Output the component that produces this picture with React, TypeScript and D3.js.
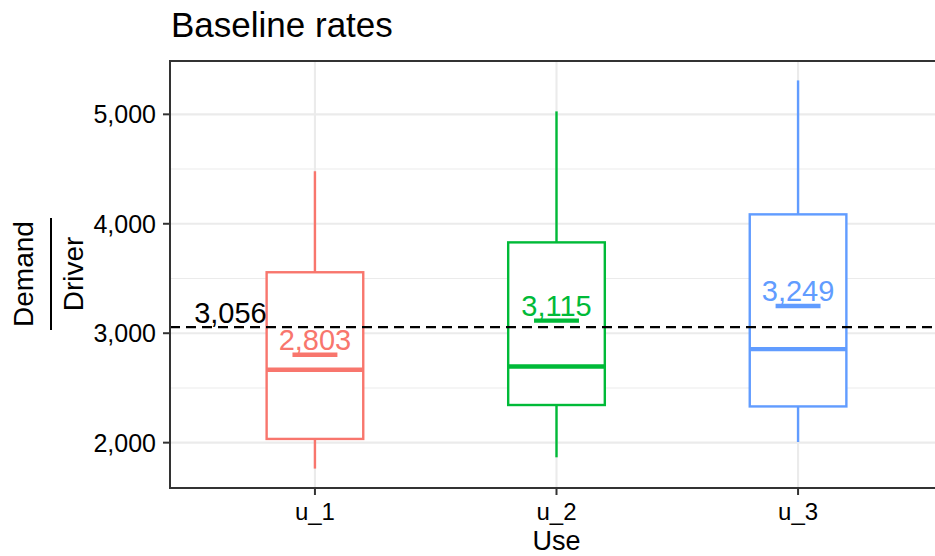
import React from 'react';
import * as d3 from 'd3';

// data
const categories = ['u_1', 'u_2', 'u_3'];
const whiskerLow = [1763, 1866, 2006];
const q1 = [2034, 2344, 2331];
const medians = [2666, 2696, 2855];
const q3 = [3557, 3830, 4086];
const whiskerHigh = [4480, 5027, 5310];
const means = [2803, 3115, 3249];
const overallMean = 3056;
const yTicks = [2000, 3000, 4000, 5000];
const yMinorTicks = [2500, 3500, 4500];

const colors = ['#F8766D', '#00BA38', '#619CFF'];

const App: React.FC = () => {
  const width = 935;
  const height = 556;
  const panel = { left: 170, top: 61, bottom: 488, right: 943 };
  const font = '"Liberation Sans", Arial, sans-serif';

  const lo = d3.min(whiskerLow) as number;
  const hi = d3.max(whiskerHigh) as number;
  const pad = (hi - lo) * 0.05;

  const y = d3.scaleLinear()
    .domain([lo - pad, hi + pad])
    .range([panel.bottom, panel.top]);

  // discrete axis: positions 1..n with 0.6 expansion each side
  const x = d3.scaleLinear()
    .domain([0.4, categories.length + 0.6])
    .range([panel.left, panel.right]);

  const fmt = d3.format(',');
  const boxHalf = 0.2;
  const meanHalf = 0.093;
  const gridColor = '#ebebeb';
  const axisColor = '#333333';
  const labelSize = 29;
  const tickSize = 25;

  return (
    <svg width={width} height={height} style={{ position: 'absolute', left: 0, top: 0 }} fontFamily={font}>
      <rect x={0} y={0} width={width} height={height} fill="#fff" />
      <clipPath id="panel-clip">
        <rect x={panel.left} y={panel.top} width={panel.right - panel.left} height={panel.bottom - panel.top} />
      </clipPath>

      {/* grid */}
      {yMinorTicks.map(t => (
        <line key={'mn' + t} x1={panel.left} x2={panel.right} y1={y(t)} y2={y(t)} stroke={gridColor} strokeWidth={1.1} />
      ))}
      {yTicks.map(t => (
        <line key={'mj' + t} x1={panel.left} x2={panel.right} y1={y(t)} y2={y(t)} stroke={gridColor} strokeWidth={2.1} />
      ))}
      {categories.map((c, i) => (
        <line key={'vg' + c} x1={x(i + 1)} x2={x(i + 1)} y1={panel.top} y2={panel.bottom} stroke={gridColor} strokeWidth={2.1} />
      ))}

      {/* boxes */}
      <g clipPath="url(#panel-clip)">
        {categories.map((c, i) => {
          const cx = x(i + 1);
          const xl = x(i + 1 - boxHalf);
          const xr = x(i + 1 + boxHalf);
          const col = colors[i];
          return (
            <g key={c}>
              <line x1={cx} x2={cx} y1={y(whiskerHigh[i])} y2={y(q3[i])} stroke={col} strokeWidth={2.4} />
              <line x1={cx} x2={cx} y1={y(q1[i])} y2={y(whiskerLow[i])} stroke={col} strokeWidth={2.4} />
              <rect x={xl} y={y(q3[i])} width={xr - xl} height={y(q1[i]) - y(q3[i])} fill="#fff" stroke={col} strokeWidth={2.4} />
              <line x1={xl} x2={xr} y1={y(medians[i])} y2={y(medians[i])} stroke={col} strokeWidth={4.4} />
              <line x1={x(i + 1 - meanHalf)} x2={x(i + 1 + meanHalf)} y1={y(means[i])} y2={y(means[i])} stroke={col} strokeWidth={4.4} />
              <text x={cx} y={y(means[i]) - 5} textAnchor="middle" fontSize={labelSize} fill={col}>{fmt(means[i])}</text>
            </g>
          );
        })}

        <line x1={panel.left} x2={panel.right} y1={y(overallMean)} y2={y(overallMean)} stroke="#000" strokeWidth={2.3} strokeDasharray="10,6" />
        <text x={x(0.5)} y={y(overallMean) - 4} fontSize={labelSize} fill="#000">{fmt(overallMean)}</text>
      </g>

      {/* panel border */}
      <rect x={panel.left} y={panel.top} width={panel.right - panel.left} height={panel.bottom - panel.top} fill="none" stroke={axisColor} strokeWidth={2} />

      {/* y axis */}
      {yTicks.map(t => (
        <g key={'yt' + t}>
          <line x1={panel.left - 7} x2={panel.left} y1={y(t)} y2={y(t)} stroke={axisColor} strokeWidth={2} />
          <text x={panel.left - 14} y={y(t)} dy="0.36em" textAnchor="end" fontSize={tickSize} fill="#000">{fmt(t)}</text>
        </g>
      ))}

      {/* x axis */}
      {categories.map((c, i) => (
        <g key={'xt' + c}>
          <line x1={x(i + 1)} x2={x(i + 1)} y1={panel.bottom} y2={panel.bottom + 7} stroke={axisColor} strokeWidth={2} />
          <text x={x(i + 1)} y={520} textAnchor="middle" fontSize={24} fill="#000">{c}</text>
        </g>
      ))}

      {/* axis titles */}
      <text x={x(2)} y={550} textAnchor="middle" fontSize={27} fill="#000">Use</text>
      <g transform="translate(51,274) rotate(-90)">
        <text x={0} y={-18} textAnchor="middle" fontSize={28} fill="#000">Demand</text>
        <line x1={-56} x2={56} y1={0} y2={0} stroke="#000" strokeWidth={2} />
        <text x={0} y={32} textAnchor="middle" fontSize={28} fill="#000">Driver</text>
      </g>

      {/* title */}
      <text x={171} y={37} fontSize={35} fill="#000">Baseline rates</text>
    </svg>
  );
};

export default App;
